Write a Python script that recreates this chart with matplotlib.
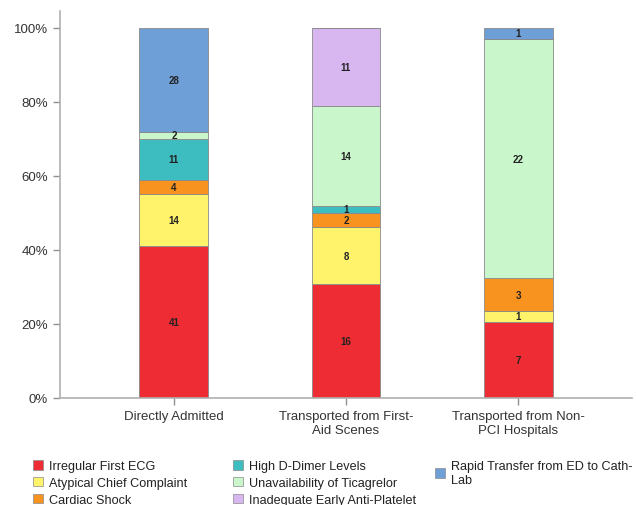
import matplotlib
matplotlib.use("Agg")
import matplotlib.pyplot as plt
from matplotlib.patches import Patch
import numpy as np

plt.rcParams['font.family'] = ['Liberation Sans', 'DejaVu Sans']

groups = ["Directly Admitted", "Transported from First-\nAid Scenes", "Transported from Non-\nPCI Hospitals"]
reasons = ["Irregular First ECG", "Atypical Chief Complaint", "Cardiac Shock",
           "High D-Dimer Levels", "Unavailability of Ticagrelor",
           "Inadequate Early Anti-Platelet", "Rapid Transfer from ED to Cath-\nLab"]
counts = np.array([
    [41, 16, 7],   # Irregular First ECG
    [14, 8, 1],    # Atypical Chief Complaint
    [4, 2, 3],     # Cardiac Shock
    [11, 1, 0],    # High D-Dimer Levels
    [2, 14, 22],   # Unavailability of Ticagrelor
    [0, 11, 0],    # Inadequate Early Anti-Platelet
    [28, 0, 1],    # Rapid Transfer from ED to Cath-Lab
])
colors = ["#EE2C33", "#FFF36B", "#F7931E", "#3DBDBF", "#C9F6CB", "#D8B6F0", "#6E9FD6"]

pct = counts / counts.sum(axis=0) * 100

fig = plt.figure(figsize=(6.36, 5.06), dpi=100)
ax = fig.add_axes([0.094, 0.2115, 0.9, 0.765])

x = np.arange(len(groups))
bottom = np.zeros(len(groups))
for i in range(len(reasons)):
    ax.bar(x, pct[i], 0.4, bottom=bottom, color=colors[i], edgecolor="#8a8a8a", linewidth=0.6)
    for j in range(len(groups)):
        if counts[i, j] > 0:
            ax.text(x[j], bottom[j] + pct[i, j] / 2, str(counts[i, j]), ha="center", va="center",
                    fontsize=7, fontweight="bold", color="#222222")
    bottom += pct[i]

ax.set_xlim(-0.663, 2.663)
ax.set_ylim(0, 104.6)
ax.set_yticks(np.arange(0, 101, 20))
ax.set_yticklabels([f"{v}%" for v in range(0, 101, 20)])
ax.set_xticks(x)
ax.set_xticklabels(groups)
for s in ["top", "right"]:
    ax.spines[s].set_visible(False)
for s in ["left", "bottom"]:
    ax.spines[s].set_color("#b0b0b0")
    ax.spines[s].set_linewidth(1.2)
ax.tick_params(axis="both", colors="#909090", labelcolor="#333333", labelsize=9.5, length=5, width=1)

# legend: three columns placed by hand (3, 3, 1 entries)
handles = [Patch(facecolor=c, edgecolor="#8a8a8a", linewidth=0.5) for c in colors]
cols = [(0, 3, 33, 9.1), (3, 6, 233, 9.1), (6, 7, 435, 9.1)]
for a, b, px, fs in cols:
    leg = fig.legend(handles[a:b], reasons[a:b], loc="upper left",
                     bbox_to_anchor=(px / 636, 1 - 461 / 506), frameon=False, fontsize=fs,
                     handlelength=0.8, handleheight=0.8, handletextpad=0.45,
                     labelspacing=0.36, borderpad=0, borderaxespad=0)
    for t in leg.get_texts():
        t.set_color("#222222")

fig.savefig("out.png", dpi=100)
